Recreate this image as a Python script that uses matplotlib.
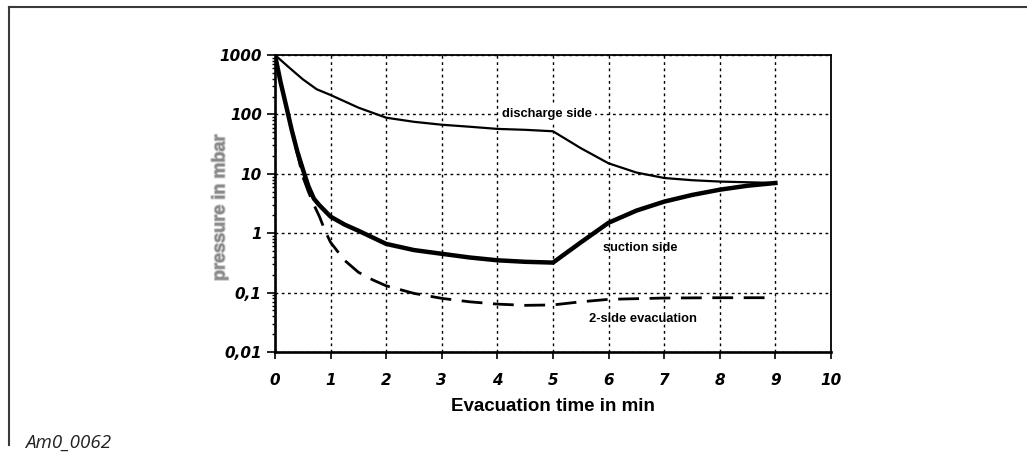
import matplotlib
matplotlib.use("Agg")
import matplotlib.pyplot as plt
import matplotlib.patheffects as pe
from matplotlib.lines import Line2D
from matplotlib.ticker import LogLocator, NullFormatter, FixedLocator

# Evacuation time (min) and pressure (mbar) for each curve
t_discharge = [0, 0.25, 0.5, 0.75, 1, 1.5, 2, 2.5, 3, 3.5, 4, 4.5, 5,
               5.5, 6, 6.5, 7, 7.5, 8, 8.5, 9]
p_discharge = [1000, 620, 390, 265, 212, 130, 88, 75, 67, 62, 57, 55, 52,
               27, 15, 10.5, 8.5, 7.8, 7.4, 7.2, 7.0]

t_suction = [0, 0.1, 0.2, 0.3, 0.4, 0.5, 0.6, 0.7, 0.8, 1, 1.25, 1.5, 2,
             2.5, 3, 3.5, 4, 4.5, 5, 5.5, 6, 6.5, 7, 7.5, 8, 8.5, 9]
p_suction = [1000, 350, 140, 55, 24, 12, 6.2, 3.8, 2.95, 1.9, 1.4, 1.1,
             0.66, 0.52, 0.45, 0.39, 0.35, 0.33, 0.32, 0.70, 1.5, 2.4,
             3.4, 4.4, 5.4, 6.3, 7.0]

t_two_side = [0, 0.1, 0.2, 0.3, 0.4, 0.5, 0.6, 0.7, 0.8, 0.9, 1, 1.25, 1.5,
              1.75, 2, 2.5, 3, 3.5, 4, 4.5, 5, 5.5, 6, 7, 8, 9]
p_two_side = [1000, 350, 140, 55, 22, 9, 5.0, 3.0, 1.9, 1.1, 0.7, 0.35,
              0.22, 0.165, 0.13, 0.097, 0.08, 0.07, 0.064, 0.061, 0.062,
              0.07, 0.077, 0.081, 0.082, 0.082]

x_ticks = [0, 1, 2, 3, 4, 5, 6, 7, 8, 9, 10]
y_ticks = [0.01, 0.1, 1, 10, 100, 1000]
y_tick_labels = ["0,01", "0,1", "1", "10", "100", "1000"]

W, H = 1027, 455
fig = plt.figure(figsize=(W / 100, H / 100), dpi=100)
ax = fig.add_axes([275 / W, 1 - 352 / H, (831 - 275) / W, (352 - 55) / H])

ax.set_yscale("log")
ax.set_xlim(0, 10)
ax.set_ylim(0.01, 1000)

ax.plot(t_discharge, p_discharge, color="black", lw=1.6, solid_joinstyle="round", zorder=4)
ax.plot(t_suction, p_suction, color="black", lw=3.2, solid_joinstyle="round", zorder=5)
ax.plot(t_two_side, p_two_side, color="black", lw=2.0, linestyle=(0, (7.5, 3.8)), zorder=3)

# dotted grid
ax.grid(True, which="major", color="black", linestyle=(0, (2.0, 2.5)), lw=1.0)
ax.set_axisbelow(True)

# ticks
ax.xaxis.set_major_locator(FixedLocator(x_ticks))
ax.set_xticklabels([str(v) for v in x_ticks])
ax.yaxis.set_major_locator(FixedLocator(y_ticks))
ax.set_yticklabels(y_tick_labels)
ax.yaxis.set_minor_locator(LogLocator(base=10, subs=range(2, 10), numticks=20))
ax.yaxis.set_minor_formatter(NullFormatter())
ax.tick_params(axis="x", which="major", direction="out", length=5, width=1.2, pad=10)
ax.tick_params(axis="y", which="major", direction="out", length=5.5, width=1.2, pad=4)
ax.tick_params(axis="y", which="minor", direction="out", length=2.5, width=1.0)
for lab in ax.get_xticklabels() + ax.get_yticklabels():
    lab.set_fontfamily("DejaVu Sans")
    lab.set_fontweight("bold")
    lab.set_fontstyle("oblique")
    lab.set_fontsize(11)

# spines
ax.spines["left"].set_linewidth(1.9)
ax.spines["bottom"].set_linewidth(1.9)
ax.spines["top"].set_linewidth(1.3)
ax.spines["right"].set_linewidth(1.3)

# axis labels
ax.set_xlabel("Evacuation time in min", fontfamily="Liberation Sans",
              fontweight="bold", fontsize=13.5, labelpad=7)
ax.set_ylabel("pressure in mbar", fontfamily="Liberation Sans",
              fontweight="bold", fontsize=13, color="#8a8a8a",
              path_effects=[pe.Stroke(linewidth=1.4, foreground="#c8c8c8"), pe.Normal()])
ax.yaxis.set_label_coords(-0.099, 0.485)
ax.yaxis.label.set_va("center")

# curve annotations
ax.text(4.9, 100, "discharge side", ha="center", va="center",
        fontfamily="Liberation Sans", fontweight="bold", fontsize=9.3,
        bbox=dict(facecolor="white", edgecolor="none", pad=1.5), zorder=6)
ax.text(6.57, 0.56, "suction side", ha="center", va="center",
        fontfamily="Liberation Sans", fontweight="bold", fontsize=9.2, zorder=6)
ax.text(6.61, 0.036, "2-side evacuation", ha="center", va="center",
        fontfamily="Liberation Sans", fontweight="bold", fontsize=9.3, zorder=6)

# document frame and figure id
fig.add_artist(Line2D([9 / W, 1], [1 - 7 / H, 1 - 7 / H], transform=fig.transFigure,
                      color="#3a3a3a", lw=1.5))
fig.add_artist(Line2D([9 / W, 9 / W], [1 - 7 / H, 1 - 445 / H], transform=fig.transFigure,
                      color="#3a3a3a", lw=1.5))
fig.text(25 / W, 1 - 448 / H, "Am0_0062", fontfamily="Open Sans", fontstyle="italic",
         fontsize=13.5, color="#222222", ha="left", va="baseline")

fig.savefig("out.png", dpi=100)
